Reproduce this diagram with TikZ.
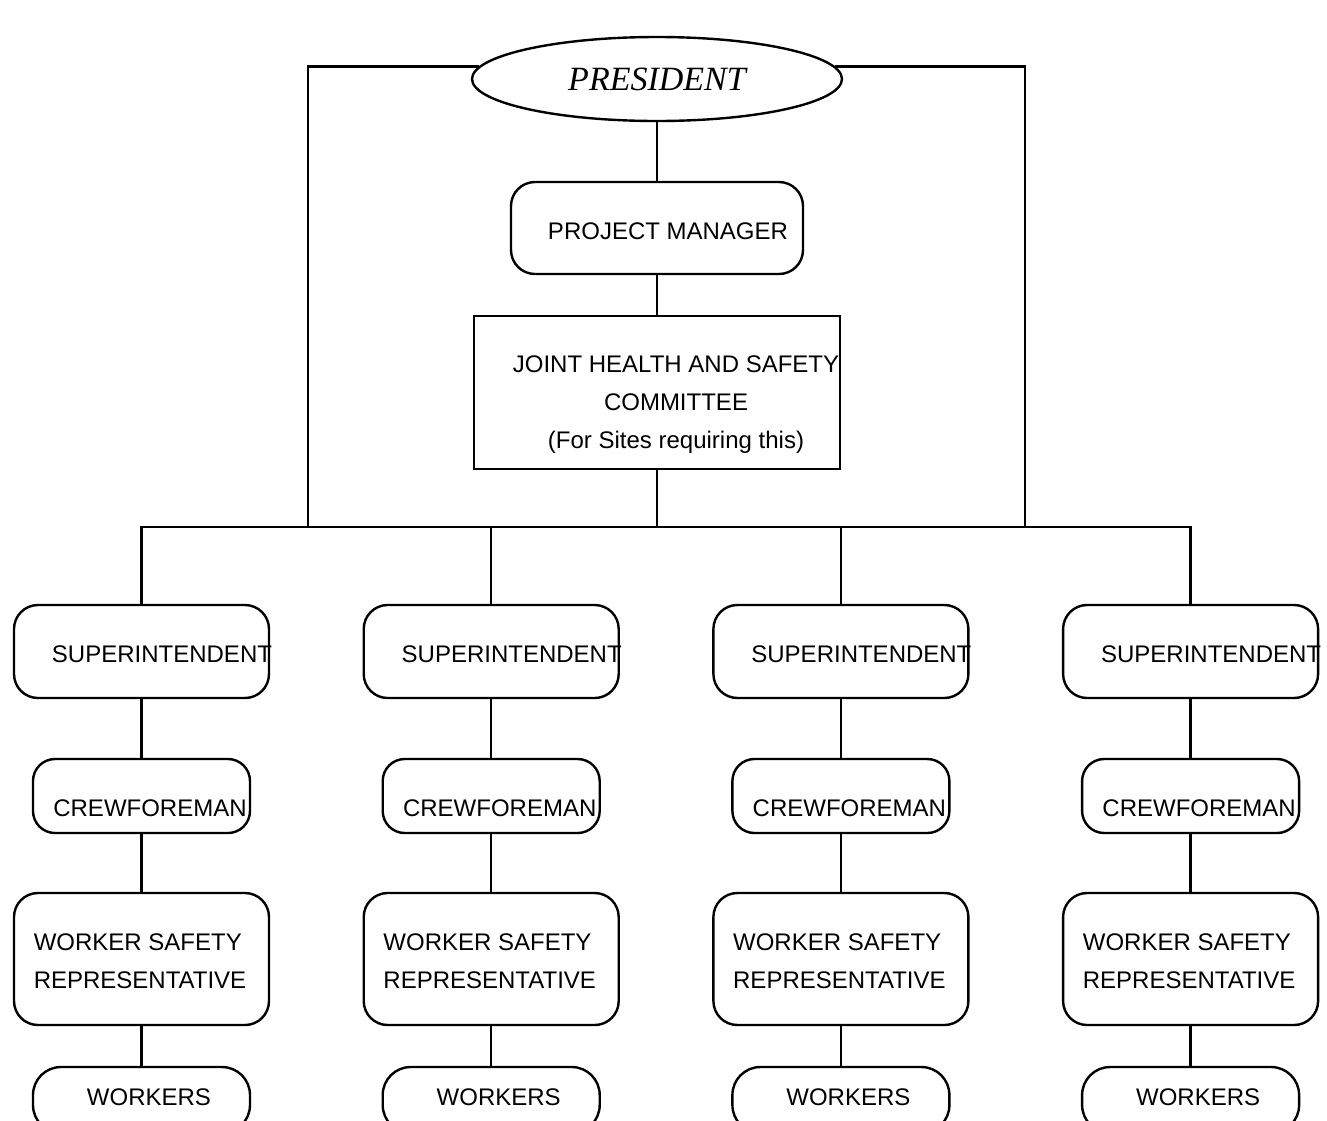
\documentclass[tikz,border=0pt]{standalone}
\usepackage{fontspec}
\setmainfont{Liberation Sans}
\newfontfamily\presfont{Liberation Serif}
\usetikzlibrary{shapes.geometric}

\begin{document}
\begin{tikzpicture}[x=0.5pt,y=-0.5pt,line width=1.2pt,
  every node/.style={font=\fontsize{12}{19}\selectfont},
  every label/.style={inner sep=0pt},
  presbox/.style={draw,ellipse,inner sep=0pt,minimum width=185pt,minimum height=42pt},
  pmbox/.style={draw,rounded corners=12pt,inner sep=0pt,minimum width=146pt,minimum height=46pt},
  cttbox/.style={draw,inner sep=0pt,minimum width=183pt,minimum height=76.5pt},
  supbox/.style={draw,rounded corners=12pt,inner sep=0pt,minimum width=127.5pt,minimum height=46.5pt},
  crewbox/.style={draw,rounded corners=11pt,inner sep=0pt,minimum width=108.5pt,minimum height=37pt},
  repbox/.style={draw,rounded corners=12pt,inner sep=0pt,minimum width=127.5pt,minimum height=66pt},
  wrkbox/.style={draw,rounded corners=14pt,inner sep=0pt,minimum width=108.5pt,minimum height=33pt}]

%\orgchart

\newcommand\X{349.7}

\useasboundingbox (0,0) rectangle (1327,1120);
\clip (0,0) rectangle (1327,1120);

% top of the chart
\node[presbox] (pres) at (657,79) {\presfont\itshape\fontsize{17}{20}\selectfont PRESIDENT};
\node[pmbox,label={[xshift=5.5pt,yshift=-1.5pt]center:PROJECT MANAGER}] (pm) at (657,228) {};
\node[cttbox,label={[align=center,xshift=9.5pt,yshift=-6pt]center:{JOINT HEALTH AND SAFETY\\COMMITTEE\\(For Sites requiring this)}}] (jhsc) at (657,392.5) {};

\coordinate (bus) at (657,527);
\coordinate (dropL) at (308,527);
\coordinate (dropR) at (1025,527);

% the four crews
\node[supbox,label={[xshift=10.25pt,yshift=-1.25pt]center:SUPERINTENDENT}] (sup1) at (141.5,651.5) {};
\node[crewbox,label={[xshift=4.25pt,yshift=-6pt]center:CREWFOREMAN}] (crew1) at (141.5,796) {};
\node[repbox,label={[align=left,xshift=-0.75pt,yshift=-1.25pt]center:{WORKER SAFETY\\REPRESENTATIVE}}] (rep1) at (141.5,959) {};
\node[wrkbox,label={[xshift=3.75pt,yshift=1.5pt]center:WORKERS}] (wrk1) at (141.5,1100) {};

\node[supbox,label={[xshift=10.25pt,yshift=-1.25pt]center:SUPERINTENDENT}] (sup2) at (141.5+\X,651.5) {};
\node[crewbox,label={[xshift=4.25pt,yshift=-6pt]center:CREWFOREMAN}] (crew2) at (141.5+\X,796) {};
\node[repbox,label={[align=left,xshift=-0.75pt,yshift=-1.25pt]center:{WORKER SAFETY\\REPRESENTATIVE}}] (rep2) at (141.5+\X,959) {};
\node[wrkbox,label={[xshift=3.75pt,yshift=1.5pt]center:WORKERS}] (wrk2) at (141.5+\X,1100) {};

\node[supbox,label={[xshift=10.25pt,yshift=-1.25pt]center:SUPERINTENDENT}] (sup3) at (141.5+2*\X,651.5) {};
\node[crewbox,label={[xshift=4.25pt,yshift=-6pt]center:CREWFOREMAN}] (crew3) at (141.5+2*\X,796) {};
\node[repbox,label={[align=left,xshift=-0.75pt,yshift=-1.25pt]center:{WORKER SAFETY\\REPRESENTATIVE}}] (rep3) at (141.5+2*\X,959) {};
\node[wrkbox,label={[xshift=3.75pt,yshift=1.5pt]center:WORKERS}] (wrk3) at (141.5+2*\X,1100) {};

\node[supbox,label={[xshift=10.25pt,yshift=-1.25pt]center:SUPERINTENDENT}] (sup4) at (141.5+3*\X,651.5) {};
\node[crewbox,label={[xshift=4.25pt,yshift=-6pt]center:CREWFOREMAN}] (crew4) at (141.5+3*\X,796) {};
\node[repbox,label={[align=left,xshift=-0.75pt,yshift=-1.25pt]center:{WORKER SAFETY\\REPRESENTATIVE}}] (rep4) at (141.5+3*\X,959) {};
\node[wrkbox,label={[xshift=3.75pt,yshift=1.5pt]center:WORKERS}] (wrk4) at (141.5+3*\X,1100) {};

% lines
\draw (pres) -- (pm) -- (jhsc) -- (jhsc |- bus);
\draw (pres.176) -| (dropL);
\draw (pres.4) -| (dropR);
\draw (sup1.north) |- (bus) -| (sup4.north);
\draw (sup2.north) -- (sup2.north |- bus);
\draw (sup3.north) -- (sup3.north |- bus);

\draw (sup1) -- (crew1) -- (rep1) -- (wrk1);
\draw (sup2) -- (crew2) -- (rep2) -- (wrk2);
\draw (sup3) -- (crew3) -- (rep3) -- (wrk3);
\draw (sup4) -- (crew4) -- (rep4) -- (wrk4);

\end{tikzpicture}
\end{document}
